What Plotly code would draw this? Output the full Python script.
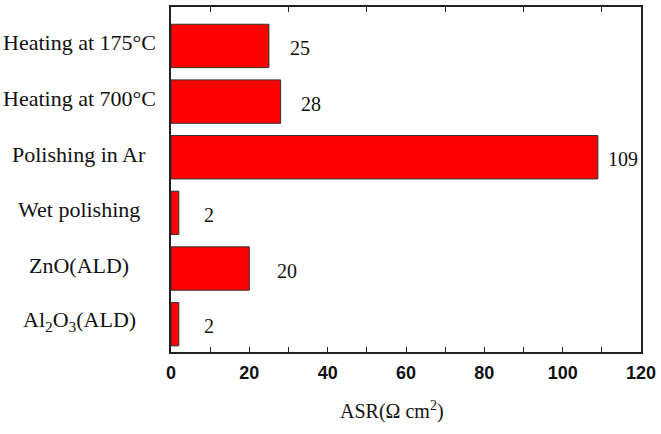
import plotly.graph_objects as go

categories = ["Heating at 175°C", "Heating at 700°C", "Polishing in Ar",
              "Wet polishing", "ZnO(ALD)", "Al<sub>2</sub>O<sub>3</sub>(ALD)"]
asr_values = [25, 28, 109, 2, 20, 2]
value_labels = ["25", "28", "109", "2", "20", "2"]
x_ticks = [0, 20, 40, 60, 80, 100, 120]
top_ticks = [10, 30, 50, 70, 90, 110]

# label gaps in pixels (style)
label_gap_px = [19, 18, 8, 23, 26, 23]

W, H = 661, 434
ml, mr, mt, mb = 171, 19, 5, 82

fig = go.Figure()
fig.add_trace(go.Bar(
    y=categories, x=asr_values, orientation="h",
    marker=dict(color="#ff0000", line=dict(color="#333333", width=1)),
    width=0.78, hoverinfo="skip", showlegend=False,
))
fig.add_trace(go.Scatter(x=[0], y=[categories[0]], xaxis="x2", mode="markers",
                         marker=dict(opacity=0), showlegend=False, hoverinfo="skip"))

for cat, v, lab, gap in zip(categories, asr_values, value_labels, label_gap_px):
    fig.add_annotation(x=v, y=cat, text=lab, showarrow=False, xanchor="left",
                       xshift=gap, yshift=-2,
                       font=dict(family="Liberation Serif", size=20, color="#111"))
    fig.add_annotation(x=-92 / (W - ml - mr), xref="paper", y=cat, text=cat,
                       showarrow=False, xanchor="center", yshift=3,
                       font=dict(family="Liberation Serif", size=22, color="#111"))

fig.add_annotation(x=(392 - ml) / (W - ml - mr), xref="paper", y=0, yref="paper",
                   yshift=-58, yanchor="middle", xanchor="center", showarrow=False,
                   text="ASR(Ω cm<sup>2</sup>)",
                   font=dict(family="Liberation Serif", size=20, color="#111"))

fig.update_layout(
    width=W, height=H,
    margin=dict(l=ml, r=mr, t=mt, b=mb),
    plot_bgcolor="white", paper_bgcolor="white",
    xaxis=dict(range=[0, 120], tickvals=x_ticks, ticks="inside", ticklen=5,
               tickwidth=1.2, tickcolor="#222",
               minor=dict(dtick=10, tick0=0, ticks="inside", ticklen=5, tickcolor="#222"),
               showline=True, linecolor="#222", linewidth=1.5, mirror=True,
               showgrid=False, zeroline=False,
               tickfont=dict(family="Liberation Sans", size=18, color="#111", weight="bold"),
               ticklabelstandoff=4),
    xaxis2=dict(range=[0, 120], overlaying="x", side="top", tickvals=top_ticks,
                ticks="inside", ticklen=5, tickcolor="#222", showticklabels=False,
                showgrid=False, zeroline=False, showline=False),
    yaxis=dict(range=[5.5, -0.7], showticklabels=False, ticks="",
               showline=True, linecolor="#222", linewidth=1.5, mirror=True,
               showgrid=False, zeroline=False),
)

fig.write_html("out.html", config={"displayModeBar": False},
               post_script="document.body.style.margin='0';document.body.style.overflow='hidden';")
